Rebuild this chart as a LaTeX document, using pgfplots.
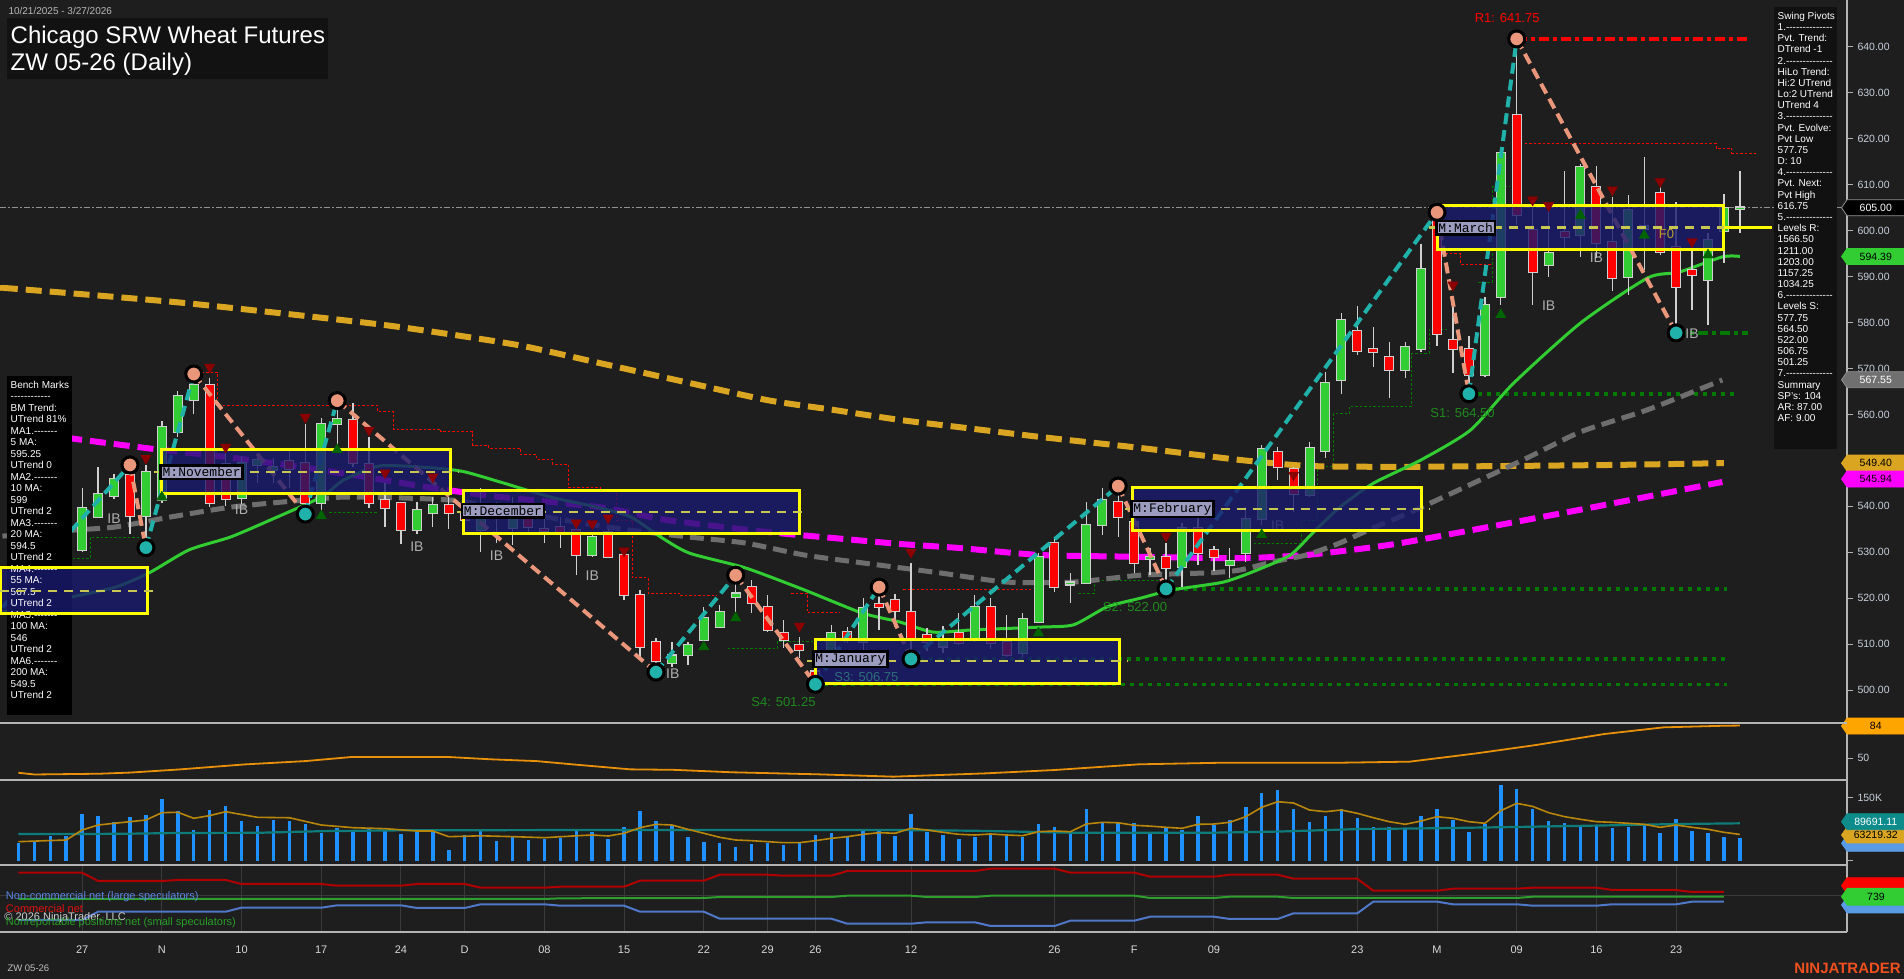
\documentclass[border=0pt]{standalone}
\usepackage{fontspec}
\setmainfont{Liberation Sans}
\setmonofont{Liberation Mono}
\usepackage{graphicx}
\usepackage{pgfplots}
\usepackage{pgfplotstable}
\pgfplotsset{compat=1.18}
\usetikzlibrary{shapes.symbols}

\ExplSyntaxOn
\cs_new:Npn \rep #1 { \prg_replicate:nn {#1} {-{}} }
\ExplSyntaxOff

\definecolor{bgc}{HTML}{1E1E1E}
\definecolor{axc}{HTML}{B4B4B4}
\definecolor{tkc}{HTML}{C8D0DC}
\definecolor{upc}{HTML}{32CD32}
\definecolor{dnc}{HTML}{FF0000}
\definecolor{wkc}{HTML}{D0D0D0}
\definecolor{gma}{HTML}{32CD32}
\definecolor{grma}{HTML}{6E6E6E}
\definecolor{orma}{HTML}{DAA520}
\definecolor{mgma}{HTML}{FF00FF}
\definecolor{tealz}{HTML}{20B2AA}
\definecolor{salz}{HTML}{E9967A}
\definecolor{boxf}{HTML}{191970}
\definecolor{yel}{HTML}{FFFF00}
\definecolor{midl}{HTML}{C8C850}
\definecolor{dgrn}{HTML}{007A00}
\definecolor{sgrn}{HTML}{1F8A1F}
\definecolor{s3c}{HTML}{2E6E78}
\definecolor{drd}{HTML}{8B0000}
\definecolor{ugrn}{HTML}{006400}
\definecolor{lblf}{HTML}{9C9CC0}
\definecolor{ibc}{HTML}{B0B0B0}
\definecolor{vblue}{HTML}{1E90FF}
\definecolor{vorg}{HTML}{B8860B}
\definecolor{vteal}{HTML}{0E7C7B}
\definecolor{cotr}{HTML}{B00000}
\definecolor{cotg}{HTML}{2E9E2E}
\definecolor{cotb}{HTML}{5078C8}
\definecolor{ntr}{HTML}{F0501E}
\definecolor{oscc}{HTML}{E8900A}
\definecolor{gridc}{HTML}{3A3A3A}
\definecolor{curp}{HTML}{909090}
\definecolor{flgray}{HTML}{707070}
\definecolor{f0c}{HTML}{B8A030}
\definecolor{orflag}{HTML}{FFA500}
\definecolor{blflag}{HTML}{5A9BE6}
\definecolor{tlflag}{HTML}{0E8C8C}
\definecolor{xlab}{HTML}{D8D8D8}
\definecolor{lgblue}{HTML}{5A87E6}
\definecolor{lgred}{HTML}{E01010}
\definecolor{lgcopy}{HTML}{D0D0D0}
\definecolor{lggreen}{HTML}{28A028}
\definecolor{grflag}{HTML}{32CD32}
\definecolor{redflag}{HTML}{FF0000}
\definecolor{datec}{HTML}{B8B8B8}
\definecolor{titlebg}{HTML}{121212}
\definecolor{pivbg}{HTML}{111111}
\definecolor{footc}{HTML}{C0C0C0}

% ---------------- data ----------------
\pgfplotstableread{
i o h l c
0 528 533 526 532
2 529 533 527 531
3 528 533 526 531
4 530.5 544 530 539.6
5 537.7 548.6 537.4 542.7
6 542.2 547 541.5 545.9
8 537.9 549 531 547.5
9 541.4 558.6 540.7 557.3
10 556.2 565 555 564
11 563.1 568.8 560 566.4
14 541.8 551 540.5 549.4
15 549 551.5 545 550
16 548 550.5 545 548.5
19 540.7 559.2 539.2 557.9
20 557.9 563 552.3 559
25 534.8 541 534 539.2
26 538.5 542 535.5 540.3
29 534.8 544 530 538
31 535.3 542 531.6 540.3
36 529.4 534.4 528.9 533.3
41 506 510.5 505 507.5
42 507.6 510.5 505.4 509.8
43 510.9 518.1 510.7 515.7
44 513.7 518.5 513.5 517
45 520.2 525 517 521
51 505.9 514.2 505 512.4
53 510.5 520 508.7 517.9
58 509.5 514 508 511
60 511 520.7 510.5 518.1
63 508 516.8 507.2 515.5
64 514.8 529.8 514.6 529
66 523 525.5 519 523.4
67 523.3 541 523 536
68 536 544 533.8 541.4
71 528.5 531 525 529
73 526.8 536.4 522.4 535.3
76 527.2 531 524.4 528.1
77 529.8 539.8 527.9 537.2
78 537.2 553.3 536 552.5
81 542.5 554 542 552.7
82 552 569.2 550.5 566.8
83 567.5 582 564.5 580.6
87 569.7 575.8 567.9 574.7
88 574.2 597 573.6 591.7
92 568.6 585.6 568.2 583.8
93 585.6 618 583.8 616.9
96 592.5 604.5 590 595.1
98 599.1 614.5 594.3 613.9
101 590 607.8 586 604.5
102 600.5 616 591.4 601
106 589.3 599.5 579.5 598
107 600 608 593 605
108 604.8 613 599.5 605
}\upcandles

\pgfplotstableread{
i o h l c
1 532 534 527 529
7 546.8 548.8 534 537.9
12 566.4 568 539.8 540.7
13 549.2 551.6 540 541.6
17 549.9 552.7 544 548.1
18 549.4 558 538.3 540.7
21 558.8 562.5 548.6 549.4
22 549.2 555 539.6 540.7
23 541.4 545 535.5 539.6
24 540.7 541 531.8 534.8
27 540.3 542 535 538.5
28 538.5 541 534 537
30 538 541 532 537.5
32 538 539.5 534 535.5
33 535 539 532 534.6
34 535.5 537.7 531 534.4
35 534.8 535.3 525 529.4
37 534.4 535 528.9 529
38 529.4 530 519.6 520.7
39 520.7 521.8 507.2 509.4
40 510.5 511.4 503.9 506.3
46 522.4 524 516.8 518.9
47 518.1 520.7 512.6 513.1
48 512.4 515.2 509.1 510.9
49 509.8 511.5 507 508.7
50 504 505 501.25 502.5
52 512.6 513.7 510.2 510.9
54 518.7 522.4 513 518.1
55 519.6 521 513.7 517.2
56 517 527.7 506.75 510.9
57 512 513.5 508.5 510.5
59 512.4 516.8 509.8 510.2
61 518.1 520 509 510.2
62 510.5 516.3 507.2 507.6
65 532 533.1 521.3 522.4
69 541 544.4 533.3 537.7
70 536.6 538 525.5 527.6
72 529 532 522 526.6
74 535.3 537.7 527.2 529.8
75 530.5 531.4 526 529
79 551.8 552.9 545.7 548.6
80 548.1 548.5 538.8 542.7
84 578.2 583.6 572.9 573.8
85 574.2 579 570.3 573.6
86 572.5 575.8 563.6 569.7
89 604 604.5 575 577.5
90 576.2 584.5 569 574.2
91 574.2 577 564.5 568.6
94 625.2 641.75 601.2 603.4
95 600.2 605 583.8 591
97 599.7 613 595.8 598.6
99 609.5 614 594 597.3
100 597.5 607.3 586.9 589.7
103 608.2 609.5 594.7 595.4
104 596.4 606.3 577.75 587.7
105 591.4 596.2 582.7 590.4
}\dncandles

\pgfplotstableread{
i v
0 42100
1 46000
2 59500
3 59500
4 111000
5 107000
6 92900
7 104800
8 109500
9 147600
10 119000
11 73800
12 121400
13 130200
14 95200
15 83300
16 98300
17 95200
18 88100
19 66700
20 78600
21 69800
22 78600
23 71400
24 64300
25 73800
26 73800
27 26200
28 61900
29 76200
30 47600
31 60200
32 50000
33 53100
34 55500
35 71400
36 68300
37 52400
38 80200
39 119800
40 95200
41 83300
42 57100
43 45200
44 43600
45 33300
46 40500
47 43600
48 38900
49 42100
50 61900
51 66700
52 57900
53 76200
54 73100
55 59500
56 111900
57 69800
58 61900
59 52400
60 56400
61 64300
62 60200
63 56400
64 88100
65 80200
66 64300
67 123800
68 93600
69 89800
70 89800
71 66000
72 81700
73 73800
74 107100
75 85700
76 97600
77 129300
78 162600
79 169000
80 123100
81 93600
82 107100
83 123100
84 103100
85 81700
86 81700
87 75400
88 107100
89 123800
90 97600
91 69800
92 88100
93 181000
94 171400
95 123100
96 95200
97 89800
98 85700
99 83300
100 78600
101 81700
102 85700
103 66000
104 100000
105 71400
106 66000
107 57900
108 54800
}\voltab

\pgfplotstableread{
i v
0 46000
3 50000
4 73800
5 85700
8 97600
9 115000
10 116000
11 101700
12 108000
13 117400
15 104000
17 103000
19 85700
21 79300
23 77000
25 71400
26 71400
27 57900
29 60000
31 58000
33 55500
35 60000
36 61900
37 59500
38 66000
39 79300
40 87300
41 85700
42 75400
43 66000
44 56400
45 50000
46 48400
47 46000
48 43600
49 43600
50 48400
51 54000
52 57900
53 63500
54 67400
55 66000
56 77800
57 73800
58 68300
59 63500
60 61900
61 64300
62 61900
63 60300
64 69800
65 71400
66 69800
67 88100
68 92100
69 91000
70 85000
71 83000
72 80200
73 77800
74 87300
75 88000
76 92100
77 105500
78 127800
79 141200
80 138000
81 121400
82 117400
83 121400
84 113500
85 103100
86 93600
87 87300
88 95200
89 105500
90 101700
91 93600
92 89800
93 119800
94 137300
95 130000
96 115000
97 105500
98 99200
99 93600
100 92100
101 89800
102 87300
103 80200
104 85700
105 80200
106 75400
107 68300
108 63219
}\volavg

\pgfplotstableread{
i v
0 64300
4 64300
7 65000
10 66700
15 67100
19 71000
24 73000
36 73800
55 73800
60 72000
66 67400
75 67400
79 70000
84 76000
89 78000
94 81000
100 85000
104 88000
108 89700
}\volteal

\pgfplotstableread{
i v
0 34.8
1 33
5.1 33.8
7 35
10.1 38.3
14.2 43.6
18 47.1
20.9 51.4
27 51.4
29.6 49
32.5 47.1
35.2 43
38.4 38.4
41.1 37.9
44.8 35.3
50.1 33.2
54.9 30.7
60.7 34.2
65 37.7
70.3 43.7
75.6 45.4
83 45.4
87.3 46.5
91.5 55.3
95.2 64
99.5 75.6
103.2 82.6
107 84.3
108 84.5
}\osctab

\pgfplotstableread{
i v
0 59.3
4 59.3
5 51
9 51
10 52
13 52
14 48
19 48
20 46.3
24 46.3
25 48
28 48
29 44.3
33 44.3
34 45.3
38 45.3
39 51.3
43 51.3
44 57.3
47 57.3
48 56.3
51 56.3
52 61
60 61
61 63.3
65 63.3
66 59.3
70 59.3
71 55.3
75 55.3
76 57.3
79 57.3
80 53.3
84 53.3
85 41.3
89 41.3
90 43.3
94 43.3
95 44.3
99 44.3
100 42
104 42
105 40
107 40
}\cotred

\pgfplotstableread{
i v
0 33
33 33
34 33.7
43 34
44 35
51 35
52 36.3
56 36.3
57 35
60 35
61 36.3
70 36.3
71 34
75 34
76 35.3
79 35.3
80 34
94 34
95 35.3
107 35.3
}\cotgreen

\pgfplotstableread{
i v
0 12
4 12
5 20.3
13 20.3
14 24.3
19 24.3
20 26.7
24 26.7
25 24
28 24
29 27.7
33 27.7
34 26.3
38 26.3
39 20.3
43 20.3
44 13.3
51 13.3
52 8.3
56 8.3
57 9.7
60 9.7
61 6
65 6
66 11.3
70 11.3
71 15.3
75 15.3
76 13
79 13
80 18.7
84 18.7
85 30.3
89 30.3
90 27.7
94 27.7
95 26.3
99 26.3
100 27.7
104 27.7
105 30.3
107 30.3
}\cotblue

% ---------------- styles ----------------
\pgfplotsset{
  panel/.style={
    scale only axis, width=1847pt, xmin=-1.154, xmax=114.72,
    anchor=south west, clip=false,
    axis y line*=right,
    y axis line style={draw=axc, line width=1.2pt},
    ytick style={draw=axc, line width=1pt},
    tick align=outside, major tick length=6pt,
    scaled y ticks=false,
    /pgf/number format/assume math mode=true,
    yticklabel style={font=\fontsize{10.5}{12}\selectfont, text=tkc, xshift=1pt},
  },
}
\tikzset{
  flg/.style n args={3}{signal, signal to=west, signal pointer angle=110,
    fill=#1, draw=#2, text=#3, anchor=west, minimum width=63pt,
    minimum height=16pt, inner sep=1pt, line width=0.8pt,
    font=\fontsize{10.5}{12}\selectfont, xshift=-6pt},
  mlbl/.style={fill=lblf, draw=black, line width=2.5pt, text=black,
    font=\ttfamily\fontsize{13}{14}\selectfont, inner sep=2pt},
  ib/.style={text=ibc, font=\fontsize{14}{16}\selectfont},
}
\newcommand{\candles}[2]{%
\addplot[draw=none, mark=none, forget plot, error bars/.cd, y dir=both, y explicit, error mark=none,
  error bar style={line width=1.3pt, draw=wkc}]
  table[x=i, y expr={(\thisrow{h}+\thisrow{l})/2}, y error expr={(\thisrow{h}-\thisrow{l})/2}] {#1};
\addplot[draw=none, mark=none, forget plot, error bars/.cd, y dir=both, y explicit, error mark=none,
  error bar style={line width=10pt, draw=wkc}]
  table[x=i, y expr={(\thisrow{o}+\thisrow{c})/2}, y error expr={max(abs(\thisrow{o}-\thisrow{c})/2,0.15)+0.25}] {#1};
\addplot[draw=none, mark=none, forget plot, error bars/.cd, y dir=both, y explicit, error mark=none,
  error bar style={line width=8pt, draw=#2}]
  table[x=i, y expr={(\thisrow{o}+\thisrow{c})/2}, y error expr={max(abs(\thisrow{o}-\thisrow{c})/2,0.15)}] {#1};
}

\begin{document}
\begin{tikzpicture}[x=1pt,y=1pt]
\fill[bgc] (0pt,0pt) rectangle (1904pt,979pt);
\path[use as bounding box] (0pt,0pt) rectangle (1904pt,979pt);

% ================= PRICE PANEL =================
\begin{axis}[panel, axis x line=none, at={(0pt,256pt)}, height=723pt, ymin=492.82, ymax=650.23,
  ytick={500,510,...,640},
  yticklabel={\pgfmathprintnumber[fixed,fixed zerofill,precision=2]{\tick}}]

\addplot[color=curp, line width=1.5pt, dash pattern=on 6pt off 2pt on 2pt off 2pt] coordinates {(-1.154,605) (114.72,605)};

\addplot[const plot, dnc, line width=0.9pt, dash pattern=on 2.5pt off 2pt] coordinates {(11.5,569.2) (12.5,562) (22.5,560.7) (23.5,556.8) (26.5,556.2) (28.5,553.3) (29.5,552.7) (31.5,551.2) (32.5,550.3) (33.5,549.2) (34.5,544.2) (36.5,543.3) (37.5,537) (38.5,524.4) (39.5,521.1) (41.5,520.5) (43.8,520.5)};
\addplot[const plot, dnc, line width=0.9pt, dash pattern=on 2.5pt off 2pt] coordinates {(48.5,521.1) (49.5,516.8) (51.5,516.8)};
\addplot[const plot, dnc, line width=0.9pt, dash pattern=on 2.5pt off 2pt] coordinates {(55.5,522) (63.5,522)};
\addplot[const plot, dnc, line width=0.9pt, dash pattern=on 2.5pt off 2pt] coordinates {(71.5,544) (77.5,544)};
\addplot[const plot, dnc, line width=0.9pt, dash pattern=on 2.5pt off 2pt] coordinates {(89.5,595) (90.5,592.7) (92.5,592.7)};
\addplot[const plot, dnc, line width=0.9pt, dash pattern=on 2.5pt off 2pt] coordinates {(94.5,619) (106.5,618) (107.5,616.9) (109,616.9)};
\addplot[const plot, dgrn, line width=0.9pt, dash pattern=on 2.5pt off 2pt] coordinates {(3.4,528.7) (4.5,533.3) (7.6,533.3)};
\addplot[const plot, dgrn, line width=0.9pt, dash pattern=on 2.5pt off 2pt] coordinates {(19.5,538.7) (22.5,538.7)};
\addplot[const plot, dgrn, line width=0.9pt, dash pattern=on 2.5pt off 2pt] coordinates {(44.5,509) (47.6,510.5) (51,510.5)};
\addplot[const plot, dgrn, line width=0.9pt, dash pattern=on 2.5pt off 2pt] coordinates {(66.5,521) (67.5,523.8) (71.5,523.8)};
\addplot[const plot, dgrn, line width=0.9pt, dash pattern=on 2.5pt off 2pt] coordinates {(77.5,532) (80.5,536.9) (81.5,548.6) (82.5,560.2) (83.5,561.8) (87.4,573.2) (88.5,578.5) (89.6,578.5)};
\addplot[const plot, dgrn, line width=0.9pt, dash pattern=on 2.5pt off 2pt] coordinates {(91.6,588.8) (92.5,609.6) (93.6,609.6)};

\addplot[dgrn, line width=3.5pt, dash pattern=on 4pt off 5pt] coordinates {(91,564.5) (107.7,564.5)};
\addplot[dgrn, line width=3.5pt, dash pattern=on 4pt off 5pt] coordinates {(72,522) (107.2,522)};
\addplot[dgrn, line width=3.5pt, dash pattern=on 4pt off 5pt] coordinates {(56,506.75) (107.2,506.75)};
\addplot[dgrn, line width=3.5pt, dash pattern=on 4pt off 5pt] coordinates {(50,501.25) (107.2,501.25)};
\addplot[dgrn, line width=3.5pt, dash pattern=on 10pt off 4pt on 4pt off 4pt] coordinates {(104,577.75) (108.5,577.75)};
\addplot[dnc, line width=3.5pt, dash pattern=on 10pt off 4pt on 4pt off 4pt] coordinates {(94,641.75) (108.5,641.75)};

\addplot[orma, line width=6pt, dash pattern=on 16pt off 8pt, smooth, tension=0.4] coordinates {(-1,587.5) (0,587.3) (10.3,584.3) (21.7,580) (26,578) (31.5,575) (36.7,571) (41.9,567) (47,563.1) (51.1,561) (55.3,558.8) (59.1,557.2) (64.1,555.1) (70.4,552.7) (76.6,550.1) (80.8,548.8) (85,548.6) (87.9,548.6) (100,549) (107,549.4)};
\addplot[mgma, line width=6pt, dash pattern=on 16pt off 8pt, smooth, tension=0.4] coordinates {(3,555) (3.7,554.6) (8.9,552.3) (13.1,550.7) (17.2,548.8) (21.4,546.6) (25.6,544.2) (29.8,542.2) (36.5,539.8) (40.7,537) (47,534.4) (51.1,533.1) (55.3,531.8) (59.1,530.9) (64.1,529.4) (70.4,529) (76.6,528.7) (80.8,529.4) (85,531.1) (87.9,532.7) (97.9,539.2) (106.9,545.3)};
\addplot[grma, line width=5pt, dash pattern=on 14pt off 7pt, smooth, tension=0.4] coordinates {(-1,533.5) (3.4,534.8) (6.1,535.5) (9.6,537.7) (13.3,539.8) (16.8,541) (20.4,542) (24.1,541.8) (27.6,541.2) (31.3,538.8) (34.9,536.6) (38.4,534.8) (42.1,533.3) (45.6,532) (49.3,529.4) (52.9,527.7) (57.8,525.5) (62,523.5) (66.2,523.5) (70.4,525) (74.6,525.5) (76.6,526.1) (78.7,527.9) (80.8,529.4) (82.9,532) (85,535.3) (87.9,539.6) (94.4,550.1) (98,556.2) (102.2,561) (106.9,567.5)};
\addplot[gma, line width=3pt, smooth, tension=0.4] coordinates {(-1,517) (1,518.5) (3.4,520.3) (6.1,522.4) (8.2,525.5) (10.7,530.5) (13.3,533.3) (15.8,537) (19,542) (20.4,545.7) (22.7,548.8) (26.2,548.3) (28,547.5) (30.5,545) (33.4,542) (36.3,539.8) (38.4,537.7) (40.3,533.3) (42.1,529.8) (45.6,526.6) (49.3,521.8) (52.9,516.8) (55.3,514.8) (57.4,512.6) (59.9,513.1) (64.1,513.7) (66.2,514.2) (68.3,518.1) (70.4,520) (72.4,521.8) (75.6,523.5) (77.7,526.1) (79.8,529.4) (81.2,534.2) (82.9,539.8) (85,545) (88,550.1) (91.1,556.6) (93.8,566.8) (98,579.9) (102.2,589.7) (104.2,591) (106.9,594.3) (108,594.4)};

\candles{\upcandles}{upc}
\candles{\dncandles}{dnc}

\addplot[tealz, line width=4pt, dash pattern=on 11pt off 6pt] coordinates {(-1,518) (7,549)};
\addplot[salz, line width=4pt, dash pattern=on 11pt off 6pt] coordinates {(7,549) (8,531)};
\addplot[tealz, line width=4pt, dash pattern=on 11pt off 6pt] coordinates {(8,531) (11,568.8)};
\addplot[salz, line width=4pt, dash pattern=on 11pt off 6pt] coordinates {(11,568.8) (18,538.3)};
\addplot[tealz, line width=4pt, dash pattern=on 11pt off 6pt] coordinates {(18,538.3) (20,563)};
\addplot[salz, line width=4pt, dash pattern=on 11pt off 6pt] coordinates {(20,563) (40,503.9)};
\addplot[tealz, line width=4pt, dash pattern=on 11pt off 6pt] coordinates {(40,503.9) (45,525)};
\addplot[salz, line width=4pt, dash pattern=on 11pt off 6pt] coordinates {(45,525) (50,501.25)};
\addplot[tealz, line width=4pt, dash pattern=on 11pt off 6pt] coordinates {(50,501.25) (54,522.4)};
\addplot[salz, line width=4pt, dash pattern=on 11pt off 6pt] coordinates {(54,522.4) (56,506.75)};
\addplot[tealz, line width=4pt, dash pattern=on 11pt off 6pt] coordinates {(56,506.75) (69,544.4)};
\addplot[salz, line width=4pt, dash pattern=on 11pt off 6pt] coordinates {(69,544.4) (72,522)};
\addplot[tealz, line width=4pt, dash pattern=on 11pt off 6pt] coordinates {(72,522) (89,604)};
\addplot[salz, line width=4pt, dash pattern=on 11pt off 6pt] coordinates {(89,604) (91,564.5)};
\addplot[tealz, line width=4pt, dash pattern=on 11pt off 6pt] coordinates {(91,564.5) (94,641.75)};
\addplot[salz, line width=4pt, dash pattern=on 11pt off 6pt] coordinates {(94,641.75) (104,577.75)};

\addplot[only marks, mark=*, mark size=8pt, mark options={fill=salz, draw=black, line width=3pt}] coordinates {(7,549) (11,568.8) (20,563) (45,525) (54,522.4) (69,544.4) (89,604) (94,641.75)};
\addplot[only marks, mark=*, mark size=8pt, mark options={fill=tealz, draw=black, line width=3pt}] coordinates {(8,531) (18,538.3) (40,503.9) (50,501.25) (56,506.75) (72,522) (91,564.5) (104,577.75)};

\addplot[only marks, mark=triangle*, mark size=6pt, mark options={fill=drd, draw=drd, rotate=180}] coordinates {(12,570.3) (8,550.5) (18,559.4) (22,556.6) (23,547.3) (26,546.4) (13,552.9) (35,536.4) (36,536.2) (37,537.5) (38,530.3) (49,513.9) (56,530) (72,533.5) (80,546.8) (95,606.7) (96,605.5) (100,608.9) (103,610.7) (105,597.6) (90,588.2)};
\addplot[only marks, mark=triangle*, mark size=6pt, mark options={fill=ugrn, draw=ugrn}] coordinates {(20,552.3) (19,537.9) (9,542) (45,515.7) (43,509.4) (64,512.4) (78,533.8) (93,581.7) (98,603.3) (102,599) (106,594.7)};

\node[text=dnc, font=\fontsize{13}{15}\selectfont] at (axis cs:93.4,646.3) {R1: 641.75};
\node[text=sgrn, font=\fontsize{13}{15}\selectfont] at (axis cs:90.6,560.3) {S1: 564.50};
\node[text=sgrn, font=\fontsize{13}{15}\selectfont] at (axis cs:70.05,518.1) {S2: 522.00};
\node[text=sgrn, font=\fontsize{13}{15}\selectfont] at (axis cs:48,497.4) {S4: 501.25};
\node[ib] at (axis cs:6,537.2) {IB};
\node[ib] at (axis cs:14,539.2) {IB};
\node[ib] at (axis cs:25,531.2) {IB};
\node[ib] at (axis cs:30,529.2) {IB};
\node[ib] at (axis cs:36,524.8) {IB};
\node[ib] at (axis cs:41.05,503.5) {IB};
\node[ib] at (axis cs:79,535.7) {IB};
\node[ib] at (axis cs:96,583.6) {IB};
\node[ib] at (axis cs:99,594.1) {IB};
\node[ib] at (axis cs:105,577.5) {IB};

% bench marks panel background (covers the left edge of the chart)
\fill[black] (axis cs:-0.715,494.56) rectangle (axis cs:3.363,568.37);

\addplot[draw=none, fill=boxf, fill opacity=0.8] coordinates {(-1.154,516.7) (8.1,516.7) (8.1,526.6) (-1.154,526.6)} --cycle;
% bench marks text
\node[anchor=north west, align=left, text=white, inner sep=0pt, font=\fontsize{10}{11.5}\selectfont] at (axis cs:-0.495,567.3) {Bench Marks\\\rep{12}\\BM Trend:\\UTrend 81\%\\MA1.\rep{7}\\5 MA:\\595.25\\UTrend 0\\MA2.\rep{7}\\10 MA:\\599\\UTrend 2\\MA3.\rep{7}\\20 MA:\\594.5\\UTrend 2\\MA4.\rep{7}\\55 MA:\\567.5\\UTrend 2\\MA5.\rep{7}\\100 MA:\\546\\UTrend 2\\MA6.\rep{7}\\200 MA:\\549.5\\UTrend 2};
\addplot[draw=yel, line width=3pt] coordinates {(-1.154,516.7) (8.1,516.7) (8.1,526.6) (-1.154,526.6)} --cycle;
\addplot[midl, line width=2.5pt, dash pattern=on 9pt off 7pt] coordinates {(-1.154,521.6) (8.6,521.6)};

\addplot[fill=boxf, fill opacity=0.8, draw=yel, line width=3pt] coordinates {(9,542.7) (27.1,542.7) (27.1,552.3) (9,552.3)} --cycle;
\addplot[midl, line width=2.5pt, dash pattern=on 9pt off 7pt] coordinates {(8.5,547.5) (27.6,547.5)};
\addplot[fill=boxf, fill opacity=0.8, draw=yel, line width=3pt] coordinates {(27.95,534) (49,534) (49,543.5) (27.95,543.5)} --cycle;
\addplot[midl, line width=2.5pt, dash pattern=on 9pt off 7pt] coordinates {(27.5,538.8) (49.5,538.8)};
\addplot[fill=boxf, fill opacity=0.8, draw=yel, line width=3pt] coordinates {(50,501.5) (69.1,501.5) (69.1,511.1) (50,511.1)} --cycle;
\addplot[midl, line width=2.5pt, dash pattern=on 9pt off 7pt] coordinates {(49.5,506.3) (69.6,506.3)};
\addplot[fill=boxf, fill opacity=0.8, draw=yel, line width=3pt] coordinates {(69.9,534.8) (88,534.8) (88,544) (69.9,544)} --cycle;
\addplot[midl, line width=2.5pt, dash pattern=on 9pt off 7pt] coordinates {(69.4,539.4) (88.5,539.4)};
\addplot[fill=boxf, fill opacity=0.8, draw=yel, line width=3pt] coordinates {(89,595.8) (107,595.8) (107,605.4) (89,605.4)} --cycle;
\addplot[midl, line width=2.5pt, dash pattern=on 9pt off 7pt] coordinates {(88.5,600.7) (110,600.7)};
\addplot[yel, line width=3pt] coordinates {(107,600.7) (110,600.7)};

\node[text=s3c, font=\fontsize{13}{15}\selectfont] at (axis cs:53.2,502.9) {S3: 506.75};
\node[mlbl] at (axis cs:11.5,547.4) {M:November};
\node[mlbl] at (axis cs:30.4,539) {M:December};
\node[mlbl] at (axis cs:52.2,506.7) {M:January};
\node[mlbl] at (axis cs:72.4,539.4) {M:February};
\node[mlbl] at (axis cs:90.8,600.6) {M:March};
\node[text=f0c, font=\fontsize{13}{15}\selectfont] at (axis cs:103.4,599.3) {F0};

\node[flg={black}{curp}{white}] at (axis cs:114.72,605) {605.00};
\node[flg={upc}{upc}{black}] at (axis cs:114.72,594.39) {594.39};
\node[flg={flgray}{curp}{white}] at (axis cs:114.72,567.55) {567.55};
\node[flg={orma}{orma}{black}] at (axis cs:114.72,549.4) {549.40};
\node[flg={mgma}{mgma}{black}] at (axis cs:114.72,545.94) {545.94};
\end{axis}

% ================= OSCILLATOR PANEL =================
\begin{axis}[panel, axis x line=none, at={(0pt,199pt)}, height=57pt, ymin=27.2, ymax=87.2, ytick={50}]
\addplot[oscc, line width=1.8pt] table[x=i, y=v] {\osctab};
\node[flg={orflag}{orflag}{black}] at (axis cs:114.72,84) {84};
\end{axis}

% ================= VOLUME PANEL =================
\begin{axis}[panel, axis x line=none, at={(0pt,114pt)}, height=85pt, ymin=-9524, ymax=192861,
  ytick={0,150000}, yticklabels={,150K}]
\addplot[ycomb, vblue, line width=3.5pt] table[x=i, y=v] {\voltab};
\addplot[vteal, line width=2.2pt] table[x=i, y=v] {\volteal};
\addplot[vorg, line width=1.6pt] table[x=i, y=v] {\volavg};
\node[flg={blflag}{blflag}{black}] at (axis cs:114.72,42100) {};
\node[flg={orma}{orma}{black}] at (axis cs:114.72,61900) {63219.32};
\node[flg={tlflag}{tlflag}{white}] at (axis cs:114.72,93600) {89691.11};
\end{axis}

% ================= COT PANEL =================
\begin{axis}[panel, at={(0pt,47pt)}, height=67pt, ymin=0, ymax=67, ytick=\empty,
  axis x line*=bottom, x axis line style={draw=none},
  xtick={4,9,14,19,24,28,33,38,43,47,50,56,65,70,75,84,89,94,99,104},
  xticklabels={27,N,10,17,24,D,08,15,22,29,26,12,26,F,09,23,M,09,16,23},
  xtick style={draw=none},
  xticklabel style={font=\fontsize{11}{12}\selectfont, text=xlab, anchor=base, yshift=-16pt}]
\addplot[ycomb, gridc, line width=1pt] coordinates {(4,67) (9,67) (14,67) (19,67) (24,67) (28,67) (33,67) (38,67) (43,67) (47,67) (50,67) (56,67) (65,67) (70,67) (75,67) (84,67) (89,67) (94,67) (99,67) (104,67)};
\addplot[gridc, line width=1pt] coordinates {(-1.154,36) (114.72,36)};
\addplot[cotr, line width=2pt] table[x=i, y=v] {\cotred};
\addplot[cotg, line width=2pt] table[x=i, y=v] {\cotgreen};
\addplot[cotb, line width=2pt] table[x=i, y=v] {\cotblue};
\node[anchor=base west, text=lgblue, font=\fontsize{11}{12}\selectfont] at (axis cs:-1.0,32) {Non-commercial net (large speculators)};
\node[anchor=base west, text=lgred, font=\fontsize{11}{12}\selectfont] at (axis cs:-1.0,19) {Commercial net};
\node[anchor=base west, text=lgcopy, font=\fontsize{11}{12}\selectfont] at (axis cs:-1.1,11) {\textcopyright{} 2026 NinjaTrader, LLC};
\node[anchor=base west, text=lggreen, font=\fontsize{11}{12}\selectfont] at (axis cs:-1.0,6.5) {Nonreportable positions net (small speculators)};
\node[flg={redflag}{redflag}{black}] at (axis cs:114.72,46.3) {};
\node[flg={blflag}{blflag}{black}] at (axis cs:114.72,27) {};
\node[flg={grflag}{grflag}{black}, minimum height=17pt] at (axis cs:114.72,35.3) {739};
\end{axis}

\draw[axc, line width=1.5pt] (0pt,256pt) -- (1847pt,256pt);
\draw[axc, line width=1.5pt] (0pt,199pt) -- (1847pt,199pt);
\draw[axc, line width=1.5pt] (0pt,114pt) -- (1847pt,114pt);
\draw[axc, line width=1.5pt] (0pt,47pt) -- (1847pt,47pt);

\node[anchor=west, text=datec, font=\fontsize{10}{12}\selectfont] at (5pt,968pt) {10/21/2025 - 3/27/2026};
\fill[titlebg] (7pt,900pt) rectangle (328pt,961pt);
\node[anchor=base west, text=white, font=\fontsize{24}{27}\selectfont, inner sep=0pt] at (10.5pt,935.5pt) {Chicago SRW Wheat Futures};
\node[anchor=base west, text=white, font=\fontsize{24}{27}\selectfont, inner sep=0pt] at (10.5pt,908pt) {ZW 05-26 (Daily)};

\fill[pivbg] (1774pt,530pt) rectangle (1837pt,972pt);
\node[anchor=north west, align=left, text=white, inner sep=0pt, font=\fontsize{10}{11.17}\selectfont] at (1777.5pt,967pt) {Swing Pivots\\1.\rep{14}\\Pvt. Trend:\\DTrend -1\\2.\rep{14}\\HiLo Trend:\\Hi:2 UTrend\\Lo:2 UTrend\\UTrend 4\\3.\rep{14}\\Pvt. Evolve:\\Pvt Low\\577.75\\D: 10\\4.\rep{14}\\Pvt. Next:\\Pvt High\\616.75\\5.\rep{14}\\Levels R:\\1566.50\\1211.00\\1203.00\\1157.25\\1034.25\\6.\rep{14}\\Levels S:\\577.75\\564.50\\522.00\\506.75\\501.25\\7.\rep{14}\\Summary\\SP's: 104\\AR: 87.00\\AF: 9.00};

\node[anchor=west, text=footc, font=\fontsize{9.5}{11}\selectfont] at (4pt,11pt) {ZW 05-26};
\node[anchor=east, text=ntr, font=\bfseries\fontsize{15}{17}\selectfont, inner sep=0pt] at (1901pt,11pt) {NINJATRADER};
\end{tikzpicture}
\end{document}
